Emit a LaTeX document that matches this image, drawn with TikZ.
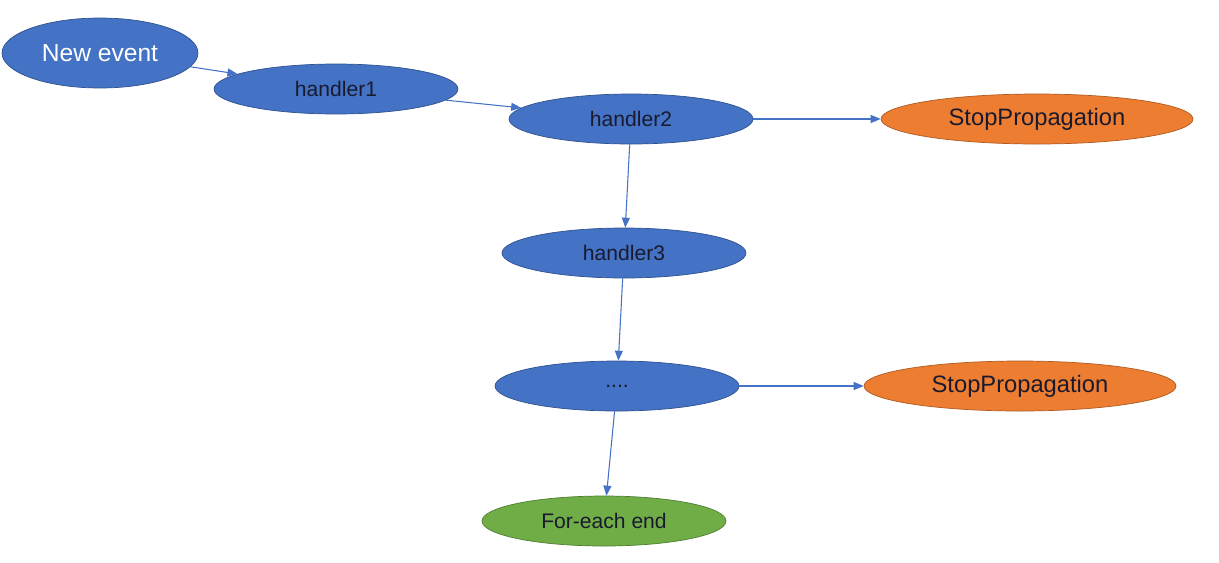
\documentclass[tikz,border=0pt]{standalone}
\usepackage{fontspec}
\setmainfont{Liberation Sans}
\usetikzlibrary{shapes.geometric, arrows.meta}
\definecolor{evblue}{HTML}{4472C4}
\definecolor{evblueline}{HTML}{2F528F}
\definecolor{evorange}{HTML}{ED7D31}
\definecolor{evorangeline}{HTML}{AE5A21}
\definecolor{evgreen}{HTML}{70AD47}
\definecolor{evgreenline}{HTML}{507E32}
\definecolor{evtext}{HTML}{1A1A2E}

\begin{document}
\begin{tikzpicture}[
    x=0.02cm, y=-0.02cm,
    handler/.style={ellipse, draw=evblueline, fill=evblue, inner sep=0pt, minimum width=4.88cm, minimum height=1cm, font=\fontsize{12}{14}\selectfont, text=evtext},
    start/.style={handler, minimum width=3.92cm, minimum height=1.4cm, font=\fontsize{14}{16}\selectfont, text=white},
    stop/.style={handler, draw=evorangeline, fill=evorange, minimum width=6.24cm, font=\fontsize{13.5}{16}\selectfont},
    finish/.style={handler, draw=evgreenline, fill=evgreen},
    arrow/.style={-{Triangle[length=2mm, width=1.6mm]}, color=evblue, semithick}
]
\useasboundingbox (0,0) rectangle (1219,562);

% Handler chain
\node[start] (new) at (100,53) {New event};
\node[handler] (h1) at (336,89) {handler1};
\node[handler] (h2) at (631,119) {handler2};
\node[handler] (h3) at (624,253) {handler3};
\node[handler] (hn) at (617,386) {....};
\node[finish] (end) at (604,521) {For-each end};

% Stopping points
\node[stop] (stop1) at (1037,119) {StopPropagation};
\node[stop] (stop2) at (1020,386) {StopPropagation};

\draw[arrow] (new) -- (h1);
\draw[arrow] (h1) -- (h2);
\draw[arrow] (h2) -- (stop1);
\draw[arrow] (h2) -- (h3);
\draw[arrow] (h3) -- (hn);
\draw[arrow] (hn) -- (stop2);
\draw[arrow] (hn) -- (end);

\end{tikzpicture}
\end{document}
